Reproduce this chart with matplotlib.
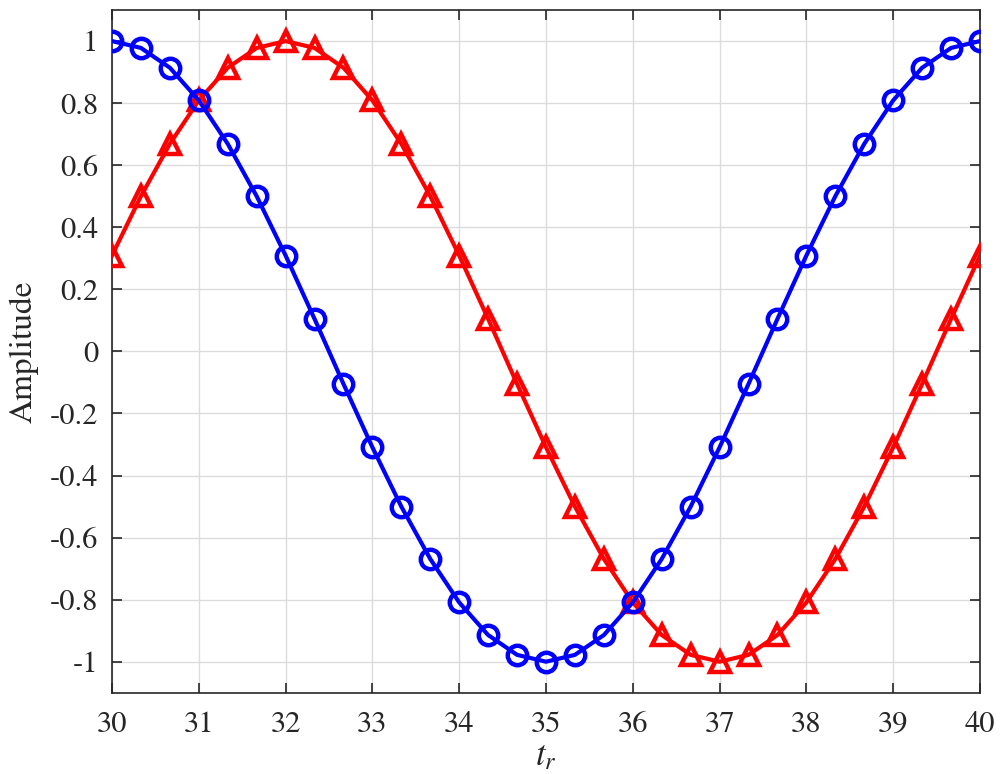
import matplotlib
matplotlib.use('Agg')
import matplotlib.pyplot as plt

plt.rcParams['font.family'] = ['STIXGeneral', 'Liberation Serif', 'DejaVu Serif']
plt.rcParams['mathtext.fontset'] = 'stix'
plt.rcParams['axes.unicode_minus'] = False

# sample times (every 1/3) and amplitudes
t = [30.0, 30.333, 30.667, 31.0, 31.333, 31.667, 32.0, 32.333, 32.667, 33.0,
     33.333, 33.667, 34.0, 34.333, 34.667, 35.0, 35.333, 35.667, 36.0, 36.333,
     36.667, 37.0, 37.333, 37.667, 38.0, 38.333, 38.667, 39.0, 39.333, 39.667, 40.0]
blue = [1.0, 0.978, 0.914, 0.809, 0.669, 0.5, 0.309, 0.105, -0.105, -0.309,
        -0.5, -0.669, -0.809, -0.914, -0.978, -1.0, -0.978, -0.914, -0.809, -0.669,
        -0.5, -0.309, -0.105, 0.105, 0.309, 0.5, 0.669, 0.809, 0.914, 0.978, 1.0]
red = [0.309, 0.5, 0.669, 0.809, 0.914, 0.978, 1.0, 0.978, 0.914, 0.809,
       0.669, 0.5, 0.309, 0.105, -0.105, -0.309, -0.5, -0.669, -0.809, -0.914,
       -0.978, -1.0, -0.978, -0.914, -0.809, -0.669, -0.5, -0.309, -0.105, 0.105, 0.309]

xticks = list(range(30, 41))
yticks = [-1, -0.8, -0.6, -0.4, -0.2, 0, 0.2, 0.4, 0.6, 0.8, 1]
ylabels = ['-1', '-0.8', '-0.6', '-0.4', '-0.2', '0', '0.2', '0.4', '0.6', '0.8', '1']

fig = plt.figure(figsize=(10, 7.74), dpi=100)
ax = fig.add_axes([0.112, 0.105, 0.868, 0.882])

ax.plot(t, red, color='red', lw=3, marker='^', ms=14, mfc='none', mew=3.2, zorder=3)
ax.plot(t, blue, color='blue', lw=3, marker='o', ms=14, mfc='none', mew=3.2, zorder=4)

ax.set_xlim(30, 40)
ax.set_ylim(-1.1, 1.1)
ax.set_xticks(xticks)
ax.set_xticklabels([str(v) for v in xticks])
ax.set_yticks(yticks)
ax.set_yticklabels(ylabels)
ax.grid(True, color='#dcdcdc', lw=1)
ax.set_axisbelow(True)
ax.tick_params(direction='in', top=True, right=True, length=7, width=1.2,
               colors='#262626', labelsize=22)
ax.tick_params(axis='x', pad=13)
ax.tick_params(axis='y', pad=10)
for s in ax.spines.values():
    s.set_color('#262626')
    s.set_linewidth(1.2)

ax.set_xlabel('$t_r$', fontsize=25, color='#262626', labelpad=2)
ax.set_ylabel('Amplitude', fontsize=24, color='#262626', labelpad=8)

fig.savefig('out.png', dpi=100)
